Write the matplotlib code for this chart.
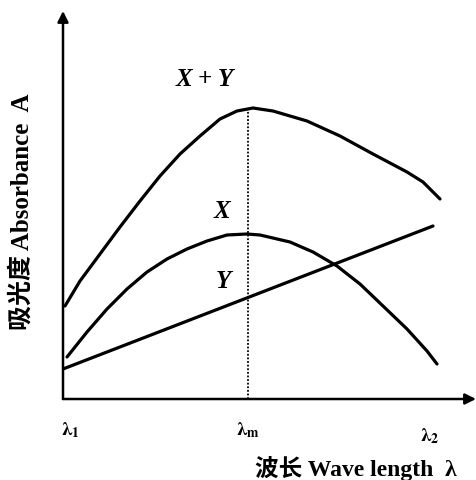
import numpy as np
import matplotlib.pyplot as plt

plt.rcParams['mathtext.fontset'] = 'stix'

# curve samples (arbitrary absorbance / wavelength units)
xy_x = [2, 17, 37, 57, 77, 97, 117, 137, 157, 174, 190, 210, 244, 277, 310, 344, 360, 377]
xy_a = [93, 118, 145, 172, 198, 223, 245, 263, 280, 288, 291, 288, 278, 263, 245, 227, 217, 200]

x_x = [4, 24, 44, 64, 84, 104, 124, 144, 164, 184, 197, 227, 250, 274, 297, 320, 344, 364, 374]
x_a = [42, 67, 90, 110, 127, 140, 150, 158, 164, 165, 164, 157, 147, 133, 115, 93, 70, 48, 35]

y_x = [0, 370]
y_a = [30, 173]

lam_m = 185
peak_a = 291

tick_pos = [7, 185, 367]
tick_y = [-30, -30, -36]
tick_labels = [r'$\mathbf{\lambda_1}$', r'$\mathbf{\lambda_m}$', r'$\mathbf{\lambda_2}$']

fig = plt.figure(figsize=(4.76, 4.81), dpi=100)
ax = fig.add_axes([63 / 476, 81 / 481, 413 / 476, 388 / 481])
ax.set_xlim(0, 413)
ax.set_ylim(0, 388)
ax.axis('off')

lw = 2.3
for xs, ys in [(xy_x, xy_a), (x_x, x_a), (y_x, y_a)]:
    ax.plot(xs, ys, color='black', lw=lw, solid_capstyle='round', solid_joinstyle='round')
ax.plot([lam_m, lam_m], [0, peak_a], color='black', lw=1.3, linestyle=(0, (1, 1)))

# axes with arrows
arrow = dict(arrowstyle='-|>', lw=1.8, color='black', mutation_scale=16, shrinkA=0, shrinkB=0)
ax.annotate('', xy=(1, 0), xytext=(0, 0), xycoords='axes fraction', arrowprops=arrow)
ax.annotate('', xy=(0, 1), xytext=(0, 0), xycoords='axes fraction', arrowprops=arrow)

serif = ['Liberation Serif', 'DejaVu Serif']
ax.text(142, 320, 'X + Y', fontsize=18, fontweight='bold', fontstyle='italic',
        family=serif, ha='center', va='center')
ax.text(159, 188, 'X', fontsize=18, fontweight='bold', fontstyle='italic',
        family=serif, ha='center', va='center')
ax.text(160, 118, 'Y', fontsize=18, fontweight='bold', fontstyle='italic',
        family=serif, ha='center', va='center')

for p, ty, t in zip(tick_pos, tick_y, tick_labels):
    ax.text(p, ty, t, fontsize=14, ha='center', va='center', clip_on=False)

lab_font = ['Liberation Serif', 'Noto Sans CJK SC']
ax.text(293, -68, '波长 Wave length  λ', fontsize=17, fontweight='bold',
        family=lab_font, ha='center', va='center', clip_on=False)
ax.text(-41, 188, '吸光度 Absorbance  A', fontsize=18, fontweight='bold',
        family=lab_font, ha='center', va='center', rotation=90, clip_on=False)

fig.savefig('out.png', dpi=100)
